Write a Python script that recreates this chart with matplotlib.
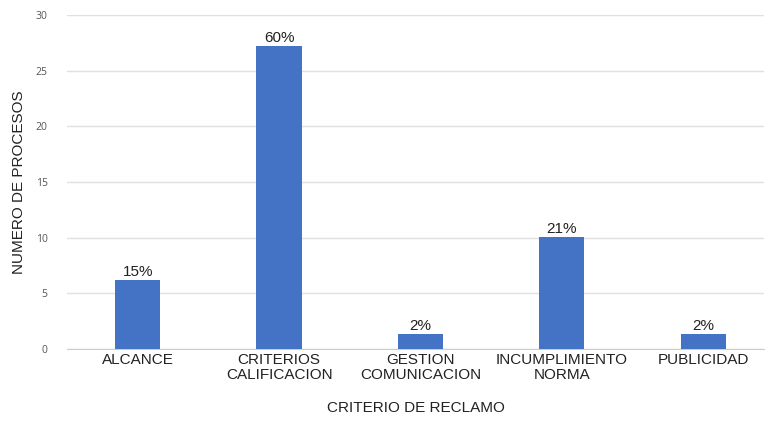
import matplotlib
matplotlib.use("Agg")
import matplotlib.pyplot as plt

categories = ["ALCANCE", "CRITERIOS\nCALIFICACION", "GESTION\nCOMUNICACION", "INCUMPLIMIENTO\nNORMA", "PUBLICIDAD"]
values = [6.2, 27.2, 1.35, 10.05, 1.35]
labels = ["15%", "60%", "2%", "21%", "2%"]
yticks = [0, 5, 10, 15, 20, 25, 30]

plt.rcParams['font.family'] = ['Liberation Sans', 'DejaVu Sans']
fig = plt.figure(figsize=(7.65, 4.21), dpi=100)
ax = fig.add_axes([67/765, 1-349/421, (764-67)/765, (349-15)/421])

x = list(range(len(categories)))
bars = ax.bar(x, values, width=0.32, color="#4472c4", zorder=3)
for b, lab in zip(bars, labels):
    ax.text(b.get_x() + b.get_width()/2, b.get_height() + 0.12, lab,
            ha="center", va="bottom", fontsize=11, color="#222222")

ax.set_xlim(-0.5, 4.43)
ax.set_ylim(0, 30)
ax.set_yticks(yticks)
ax.set_yticklabels([str(t) for t in yticks], fontsize=7.5, color="#555555", family="Open Sans")
ax.set_xticks(x)
ax.set_xticklabels(categories, fontsize=11, color="#222222", linespacing=1.05)
ax.tick_params(axis="both", length=0)
ax.tick_params(axis="y", pad=14)
ax.tick_params(axis="x", pad=3)
ax.grid(axis="y", color="#e0e0e0", linewidth=1, zorder=0)
for s in ["top", "right", "left"]:
    ax.spines[s].set_visible(False)
ax.spines["bottom"].set_color("#cccccc")
ax.set_ylabel("NUMERO DE PROCESOS", fontsize=11, color="#222222", labelpad=7)
ax.set_xlabel("CRITERIO DE RECLAMO", fontsize=11, color="#222222", labelpad=14)

fig.savefig("out.png", dpi=100, facecolor="white")
